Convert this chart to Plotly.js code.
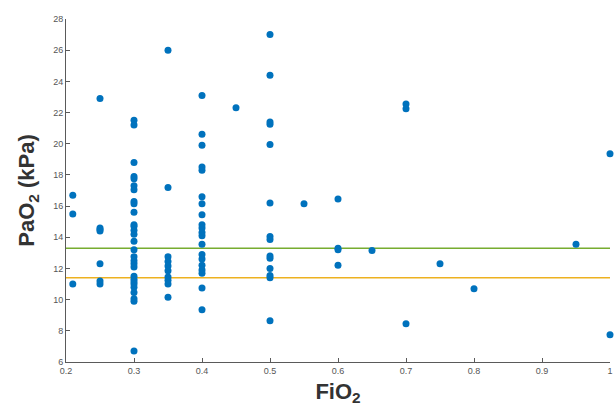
<!DOCTYPE html>
<html>
<head>
<meta charset="utf-8">
<script src="https://cdn.plot.ly/plotly-3.0.1.min.js"></script>
<style>html,body{margin:0;padding:0;background:#fff;}#chart{width:614px;height:412px;}</style>
</head>
<body>
<div id="chart"></div>
<script>
// FiO2 levels and the PaO2 (kPa) values observed at each level
const fio2Levels = [0.21, 0.25, 0.3, 0.35, 0.4, 0.45, 0.5, 0.55, 0.6, 0.65, 0.7, 0.75, 0.8, 0.95, 1.0];
const pao2_021 = [16.7, 15.5, 11.0];
const pao2_025 = [22.9, 14.6, 14.5, 14.4, 12.3, 11.2, 11.0];
const pao2_030 = [21.5, 21.2, 18.8, 17.9, 17.75, 17.3, 17.05, 16.3, 16.15, 15.6, 14.8, 14.7, 14.45, 14.2, 13.75, 13.2, 12.75, 12.5, 12.3, 12.1, 11.5, 11.3, 11.15, 11.0, 10.8, 10.45, 10.05, 9.9, 6.7];
const pao2_035 = [26.0, 17.2, 12.75, 12.45, 12.15, 11.85, 11.45, 11.25, 11.0, 10.15];
const pao2_040 = [23.1, 20.6, 19.9, 18.5, 18.3, 16.6, 16.15, 15.45, 14.8, 14.6, 14.3, 14.1, 13.55, 12.9, 12.6, 12.2, 11.9, 11.7, 10.75, 9.35];
const pao2_045 = [22.3];
const pao2_050 = [27.0, 24.4, 21.4, 21.25, 19.95, 16.2, 14.05, 13.85, 12.8, 12.65, 12.0, 11.55, 11.4, 8.65];
const pao2_055 = [16.15];
const pao2_060 = [16.45, 13.3, 13.2, 12.2];
const pao2_065 = [13.15];
const pao2_070 = [22.55, 22.25, 8.45];
const pao2_075 = [12.3];
const pao2_080 = [10.7];
const pao2_095 = [13.55];
const pao2_100 = [19.35, 7.75];
const pao2Groups = [pao2_021, pao2_025, pao2_030, pao2_035, pao2_040, pao2_045, pao2_050, pao2_055, pao2_060, pao2_065, pao2_070, pao2_075, pao2_080, pao2_095, pao2_100];

// Reference lines (kPa)
const upperRef = 13.3;
const lowerRef = 11.4;
const xRange = [0.2, 1];

const xTickVals = [0.2, 0.3, 0.4, 0.5, 0.6, 0.7, 0.8, 0.9, 1];
const xTickText = ['0.2', '0.3', '0.4', '0.5', '0.6', '0.7', '0.8', '0.9', '1'];
const yTickVals = [6, 8, 10, 12, 14, 16, 18, 20, 22, 24, 26, 28];

const xs = [], ys = [];
fio2Levels.forEach((f, i) => pao2Groups[i].forEach(v => { xs.push(f); ys.push(v); }));

const traces = [
  {x: xRange, y: [upperRef, upperRef], mode: 'lines', line: {color: '#77AC30', width: 1.5}, hoverinfo: 'skip'},
  {x: xRange, y: [lowerRef, lowerRef], mode: 'lines', line: {color: '#EDB120', width: 1.5}, hoverinfo: 'skip'},
  {x: xs, y: ys, mode: 'markers', marker: {color: '#0072BD', size: 7}, cliponaxis: false}
];

const axisCommon = {
  showgrid: false, zeroline: false, showline: true, linecolor: '#5a5a5a', linewidth: 1,
  ticks: 'inside', ticklen: 4, tickcolor: '#5a5a5a',
  tickfont: {family: 'Liberation Sans, Arial, sans-serif', size: 9, color: '#555'}
};

const layout = {
  width: 614, height: 412,
  margin: {l: 66, r: 4, t: 19, b: 50},
  paper_bgcolor: '#fff', plot_bgcolor: '#fff',
  showlegend: false,
  xaxis: Object.assign({}, axisCommon, {
    range: xRange, tickvals: xTickVals, ticktext: xTickText,
    title: {text: '<b>FiO<sub>2</sub></b>', font: {family: 'Liberation Sans, Arial, sans-serif', size: 22, color: '#333'}, standoff: 8}
  }),
  yaxis: Object.assign({}, axisCommon, {
    range: [6, 28], tickvals: yTickVals,
    title: {text: '<b>PaO<sub>2</sub> (kPa)</b>', font: {family: 'Liberation Sans, Arial, sans-serif', size: 22, color: '#333'}, standoff: 12}
  })
};

Plotly.newPlot('chart', traces, layout, {staticPlot: true});
</script>
</body>
</html>
